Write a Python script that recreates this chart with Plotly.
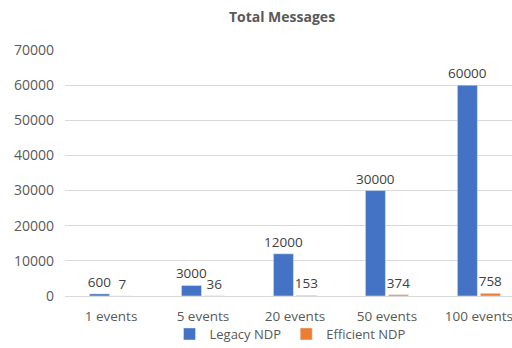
import plotly.graph_objects as go

categories = ["1 events", "5 events", "20 events", "50 events", "100 events"]
legacy = [600, 3000, 12000, 30000, 60000]
efficient = [7, 36, 153, 374, 758]
y_ticks = [0, 10000, 20000, 30000, 40000, 50000, 60000, 70000]

FONT = "Open Sans"
GRAY = "#595959"

fig = go.Figure()
fig.add_trace(go.Bar(name="Legacy NDP", x=categories, y=legacy, marker_color="#4472C4",
                     text=[str(v) for v in legacy], textposition="outside",
                     textfont=dict(color="#404040", size=13.5, family=FONT), cliponaxis=False))
fig.add_trace(go.Bar(name="Efficient NDP", x=categories, y=efficient, marker_color="#ED7D31",
                     text=[str(v) for v in efficient], textposition="outside",
                     textfont=dict(color="#404040", size=13.5, family=FONT), cliponaxis=False))

fig.update_layout(
    width=512, height=348,
    margin=dict(l=65, r=0, t=50, b=52, autoexpand=False),
    paper_bgcolor="white", plot_bgcolor="white",
    font=dict(family=FONT, color=GRAY, size=14),
    uniformtext=dict(minsize=13.5, mode="show"),
    title=dict(text="<b>Total Messages</b>", x=282/512, xref="container", xanchor="center",
               y=1 - 17/348, yref="container", yanchor="middle",
               font=dict(size=14, color=GRAY, family=FONT)),
    barmode="group", bargap=0.5, bargroupgap=0.13,
    showlegend=True,
    legend=dict(orientation="h", x=290/512, xref="container", xanchor="center",
                y=1 - 334/348, yref="container", yanchor="middle",
                font=dict(size=13, color=GRAY, family=FONT), itemwidth=30,
                bgcolor="rgba(0,0,0,0)"),
)
fig.update_xaxes(range=[-0.5, 4.36], showgrid=False, showline=False, ticks="",
                 tickfont=dict(size=13.5, color=GRAY, family=FONT), ticklabelstandoff=10,
                 automargin=False, fixedrange=True)
fig.update_yaxes(range=[0, 70000], tickvals=y_ticks, ticktext=[str(v) for v in y_ticks],
                 showgrid=True, gridcolor="#D9D9D9", gridwidth=1,
                 zeroline=True, zerolinecolor="#D9D9D9", zerolinewidth=1,
                 showline=False, ticks="", tickfont=dict(size=14, color=GRAY, family=FONT),
                 ticklabelstandoff=10, automargin=False, fixedrange=True)

fig.write_html("out.html")
